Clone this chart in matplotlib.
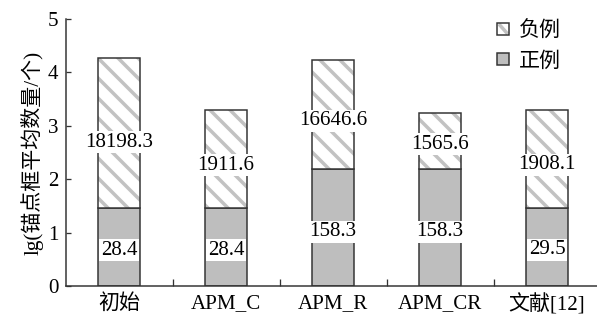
import numpy as np
import matplotlib
matplotlib.use("Agg")
import matplotlib.pyplot as plt
from matplotlib.patches import Patch, Rectangle
from matplotlib.lines import Line2D
from matplotlib.legend_handler import HandlerBase

categories = ["初始", "APM_C", "APM_R", "APM_CR", "文献[12]"]
positive = [28.4, 28.4, 158.3, 158.3, 29.5]
negative = [18198.3, 1911.6, 16646.6, 1565.6, 1908.1]
ylabel = "lg(锚点框平均数量/个)"
legend_labels = ["负例", "正例"]

DPI = 60
def px(v):
    return v * 72.0 / DPI

plt.rcParams['font.family'] = ['Liberation Serif', 'Noto Sans CJK SC']
plt.rcParams['hatch.linewidth'] = px(3.5)
plt.rcParams['hatch.color'] = '#c2c2c2'

fig = plt.figure(figsize=(597 / DPI, 320 / DPI), dpi=DPI)
ax = fig.add_axes([65.5 / 597, 1 - 286 / 320, 1.0 - 65.5 / 597 + 0.006, (286 - 19) / 320])

pos = np.array(positive)
neg = np.array(negative)
h_pos = np.log10(pos)
h_tot = np.log10(pos + neg)
x = np.arange(len(categories))
w = 0.4
edge = '#333333'
hatch_col = '#c2c2c2'
fill_col = '#bebebe'

ax.bar(x, h_pos, width=w, color=fill_col, edgecolor=edge, linewidth=px(1.5), zorder=2)
ax.bar(x, h_tot - h_pos, bottom=h_pos, width=w, color='white', edgecolor=hatch_col,
       hatch='\\', linewidth=0, zorder=2)
ax.bar(x, h_tot - h_pos, bottom=h_pos, width=w, fill=False, edgecolor=edge,
       linewidth=px(1.5), zorder=3)

fs = px(21)
for xi, p, n, hp, ht in zip(x, pos, neg, h_pos, h_tot):
    ax.text(xi, hp * 0.46, f"{p:.1f}", ha='center', va='center', fontsize=fs, zorder=4,
            bbox=dict(facecolor='white', edgecolor='none', pad=px(1.5)))
    ax.text(xi, hp + 0.44 * (ht - hp), f"{n:.1f}", ha='center', va='center', fontsize=fs,
            zorder=4, bbox=dict(facecolor='white', edgecolor='none', pad=px(1.5)))

ax.set_xlim(-0.5, len(categories) - 0.5)
ax.set_ylim(0, 5)
ax.set_yticks(range(6))
ax.set_xticks(x)
ax.set_xticklabels(categories, fontsize=fs)
ax.set_xticks(np.arange(0.5, len(categories) - 0.5, 1), minor=True)
ax.tick_params(axis='x', which='major', length=0, pad=px(8))
ax.tick_params(axis='x', which='minor', direction='in', length=px(7), width=px(1.3), color=edge)
ax.tick_params(axis='y', direction='in', length=px(5), width=px(1.3), color=edge,
               labelsize=fs, pad=px(7))
ax.spines['top'].set_visible(False)
ax.spines['right'].set_visible(False)
for s in ('left', 'bottom'):
    ax.spines[s].set_linewidth(px(1.5))
    ax.spines[s].set_color(edge)
ax.set_ylabel(ylabel, fontsize=fs, labelpad=px(4))


class HatchHandle:
    pass


class HatchHandler(HandlerBase):
    def create_artists(self, legend, orig_handle, xdescent, ydescent, width, height,
                       fontsize, trans):
        x0, y0 = -xdescent, -ydescent
        rect = Rectangle((x0, y0), width, height, facecolor='white', edgecolor='none',
                         transform=trans)
        m = 0.12 * width
        line = Line2D([x0 + m, x0 + width - m], [y0 + height - m, y0 + m],
                      color=hatch_col, lw=px(3.5), solid_capstyle='butt', transform=trans)
        border = Rectangle((x0, y0), width, height, fill=False, edgecolor=edge,
                           linewidth=px(1.5), transform=trans)
        return [rect, line, border]


h_neg = HatchHandle()
h_p = Patch(facecolor=fill_col, edgecolor=edge, linewidth=px(1.5))
leg = ax.legend([h_neg, h_p], legend_labels, loc='upper left', bbox_to_anchor=(0.772, 1.062),
                frameon=False, fontsize=fs, handlelength=0.55, handleheight=0.55,
                handletextpad=0.45, labelspacing=0.5,
                handler_map={HatchHandle: HatchHandler()})

fig.savefig("out.png", dpi=DPI)
